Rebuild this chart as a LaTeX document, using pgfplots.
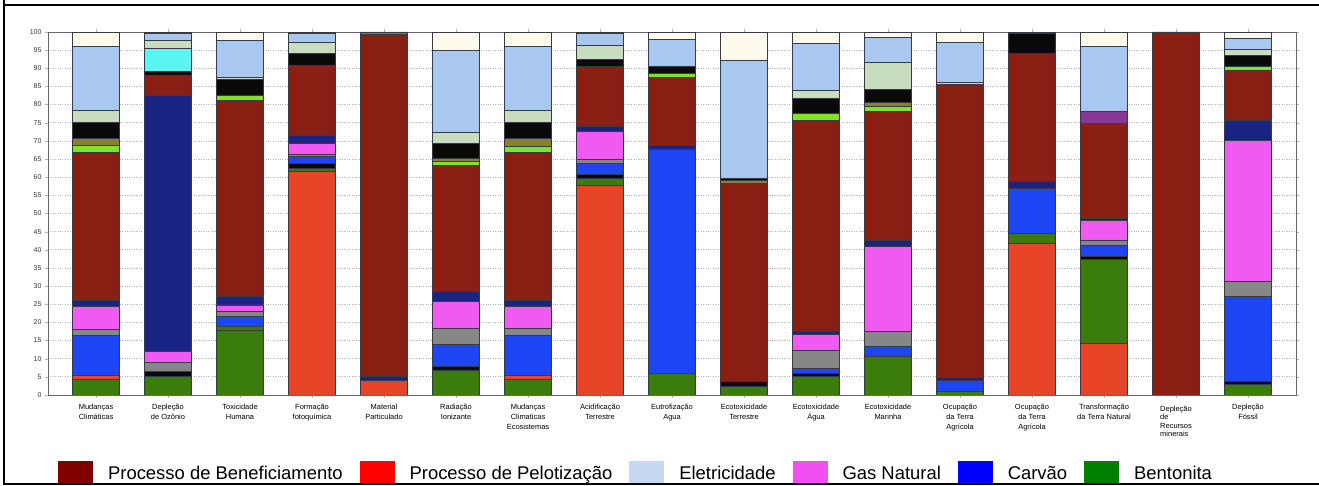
\documentclass[border=0pt]{standalone}
\usepackage{fontspec}
\setmainfont{Liberation Sans}
\usepackage{pgfplots}
\usepackage{pgfplotstable}
\pgfplotsset{compat=1.18}

% segment colours of the bars
\definecolor{cG}{RGB}{58,125,12}
\definecolor{cR}{RGB}{232,68,40}
\definecolor{cK}{RGB}{10,10,10}
\definecolor{cB}{RGB}{30,70,245}
\definecolor{cGy}{RGB}{135,135,135}
\definecolor{cP}{RGB}{240,90,240}
\definecolor{cN}{RGB}{25,35,130}
\definecolor{cDR}{RGB}{138,32,20}
\definecolor{cL}{RGB}{125,228,40}
\definecolor{cO}{RGB}{135,130,45}
\definecolor{cC}{RGB}{90,245,240}
\definecolor{cS}{RGB}{200,220,192}
\definecolor{cPu}{RGB}{135,55,150}
\definecolor{cLB}{RGB}{168,200,240}
\definecolor{cCr}{RGB}{255,250,236}
\definecolor{segline}{RGB}{55,58,68}
% legend colours
\definecolor{lDR}{RGB}{128,0,0}
\definecolor{lR}{RGB}{255,0,0}
\definecolor{lLB}{RGB}{198,217,241}
\definecolor{lP}{RGB}{240,80,240}
\definecolor{lB}{RGB}{0,0,255}
\definecolor{lG}{RGB}{0,128,0}

\pgfplotstableread{
x  G1   R    G2   K1  B    Gy  P    N    DR   L   O   K2  C   S   Pu  LB   Cr
0  4.3  1.0  0    0   11.2 1.5 6.3  1.8  40.6 2.0 2.0 4.5 0   3.3 0   17.5 4.0
1  5.0  0    0    1.4 0    2.6 3.0  70.6 5.5  0   0   1.1 6.2 2.3 0   1.8  0.5
2  17.9 0    0.9  0   2.9  1.2 1.9  2.3  54.1 1.2 0   4.4 0   0.7 0   10.2 2.3
3  0    61.5 0.9  1.4 1.8  0.7 3.0  2.3  19.2 0   0   3.2 0   3.2 0   2.3  0.5
4  0    4.1  0    0   0    0   0    1.1  94.0 0   0.8 0   0   0   0   0    0
5  6.9  0    0    0.9 6.0  4.5 7.4  2.7  34.9 0.9 0.9 4.2 0   2.9 0   22.8 5.0
6  4.2  1.1  0    0   11.2 1.8 6.0  1.8  40.6 1.8 2.1 4.6 0   3.3 0   17.5 4.0
7  0    57.8 1.8  1.2 3.0  1.1 7.6  1.4  16.5 0   0   2.0 0   3.9 0   3.2  0.5
8  5.8  0    0    0   61.8 0   0    1.2  18.8 0.9 0   1.9 0   0   0   7.5  2.1
9  2.3  0    0    1.4 0    0   0    0    54.7 0   0.8 0.4 0   0   0   32.6 7.8
10 5.2  0    0    0.8 1.3  5.1 4.3  0.7  58.1 2.0 0   4.2 0   2.2 0   12.9 3.2
11 10.6 0    0    0   2.7  4.1 23.4 1.7  35.5 1.4 1.3 3.4 0   7.6 0   6.9  1.4
12 0.9  0    0    0   3.2  0   0    0.8  80.7 0   0   0   0   0.6 0   11.0 2.8
13 0    41.7 2.8  0   12.4 0   0    1.8  35.3 0   0   5.5 0   0   0   0    0.5
14 0    14.2 23.1 0.8 3.2  1.4 5.5  0.5  26.1 0   0   0   0   0   3.2 17.9 4.1
15 0    0    0    0   0    0   0    0    100  0   0   0   0   0   0   0    0
16 2.8  0    0    0.9 23.4 4.1 39.0 5.5  13.7 1.1 0   3.1 0   1.5 0   3.2  1.7
}\data

\begin{document}
\begin{tikzpicture}
\begin{axis}[
  scale only axis, width=1248bp, height=363bp,
  ybar stacked, bar width=47bp,
  xmin=-0.667, xmax=16.667, ymin=0, ymax=100,
  xtick={0,...,16},
  xticklabels={
    {Mudanças\\Climáticas},
    {Depleção\\de Ozônio},
    {Toxicidade\\Humana},
    {Formação\\fotoquímica},
    {Material\\Particulado},
    {Radiação\\Ionizante},
    {Mudanças\\Climaticas\\Ecosistemas},
    {Acidificação\\Terrestre},
    {Eutrofização\\Agua},
    {Ecotoxicidade\\Terrestre},
    {Ecotoxicidade\\Água},
    {Ecotoxicidade\\Marinha},
    {Ocupação\\da Terra\\Agrícola},
    {Ocupação\\da Terra\\Agrícola},
    {Transformação\\da Terra Natural},
    {\begin{tabular}[t]{@{}l@{}}Depleção\\[-1.5bp]de\\[-1.5bp]Recursos\\[-1.5bp]minerais\end{tabular}},
    {Depleção\\Fóssil}},
  xticklabel style={align=center, font=\fontsize{7.5}{10}\selectfont, yshift=-3bp},
  ytick={0,5,...,100},
  yticklabel style={font=\fontsize{7}{8}\selectfont, text=black!80},
  /pgf/number format/assume math mode=true,
  tick align=outside, major tick length=3bp,
  tick style={draw=gray!60},
  ymajorgrids, grid style={dotted, gray!60, line width=0.7bp},
  axis line style={draw=gray!80!black, line width=0.9bp},
  every axis plot/.append style={draw=segline, line width=0.9bp},
  legend columns=6,
  legend entries={Processo de Beneficiamento, Processo de Pelotização, Eletricidade, Gas Natural, Carvão, Bentonita},
  legend style={at={(axis description cs:0.008,-0.215)}, anchor=west,
    draw=none, fill=none, inner sep=0pt,
    font=\fontsize{18.5}{20}\selectfont,
    nodes={inner sep=0pt, anchor=base west},
    /tikz/every odd column/.append style={column sep=15bp},
    /tikz/every even column/.append style={column sep=17bp}},
]
\addlegendimage{legend image code/.code={\fill[lDR] (0,-5bp) rectangle (34bp,18bp);}}
\addlegendimage{legend image code/.code={\fill[lR] (0,-5bp) rectangle (34bp,18bp);}}
\addlegendimage{legend image code/.code={\fill[lLB] (0,-5bp) rectangle (34bp,18bp);}}
\addlegendimage{legend image code/.code={\fill[lP] (0,-5bp) rectangle (34bp,18bp);}}
\addlegendimage{legend image code/.code={\fill[lB] (0,-5bp) rectangle (34bp,18bp);}}
\addlegendimage{legend image code/.code={\fill[lG] (0,-5bp) rectangle (34bp,18bp);}}
\addplot[fill=cG]  table[x=x,y=G1]{\data};
\addplot[fill=cR]  table[x=x,y=R]{\data};
\addplot[fill=cG]  table[x=x,y=G2]{\data};
\addplot[fill=cK]  table[x=x,y=K1]{\data};
\addplot[fill=cB]  table[x=x,y=B]{\data};
\addplot[fill=cGy] table[x=x,y=Gy]{\data};
\addplot[fill=cP]  table[x=x,y=P]{\data};
\addplot[fill=cN]  table[x=x,y=N]{\data};
\addplot[fill=cDR] table[x=x,y=DR]{\data};
\addplot[fill=cL]  table[x=x,y=L]{\data};
\addplot[fill=cO]  table[x=x,y=O]{\data};
\addplot[fill=cK]  table[x=x,y=K2]{\data};
\addplot[fill=cC]  table[x=x,y=C]{\data};
\addplot[fill=cS]  table[x=x,y=S]{\data};
\addplot[fill=cPu] table[x=x,y=Pu]{\data};
\addplot[fill=cLB] table[x=x,y=LB]{\data};
\addplot[fill=cCr] table[x=x,y=Cr]{\data};
\coordinate (O) at (rel axis cs:0,0);
\end{axis}
\pgfresetboundingbox
\begin{scope}[shift={(O)}, x=1bp, y=1bp]
\path[use as bounding box] (-48,-91) rectangle (1271,395);
\draw[line width=2.5bp] (-44,400) -- (-44,-89) -- (1280,-89);
\draw[line width=2.5bp] (-44,390) -- (1280,390);
\end{scope}
\end{tikzpicture}
\end{document}
